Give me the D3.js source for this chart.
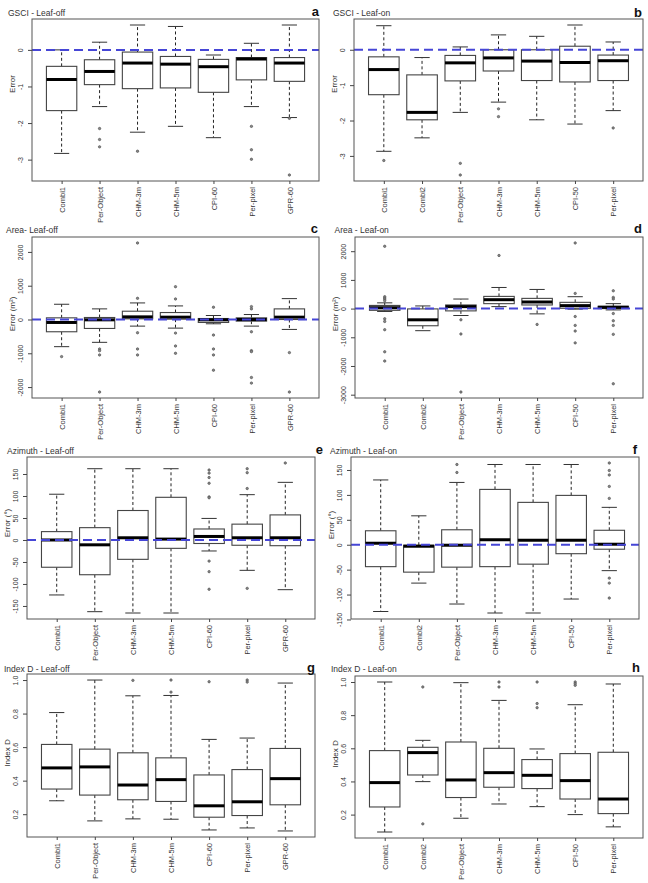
<!DOCTYPE html>
<html>
<head>
<meta charset="utf-8">
<script src="https://cdn.jsdelivr.net/npm/d3@7"></script>
<style>
  body { margin: 0; background: #fff; }
  svg { font-family: "Liberation Sans", Arial, sans-serif; }
</style>
</head>
<body>
<svg id="fig" width="648" height="883"></svg>
<script>
const FONT = '"Liberation Sans", Arial, sans-serif';

const leafOffCats = ["Combi1", "Per-Object", "CHM-3m", "CHM-5m", "CPI-60", "Per-pixel", "GPR-60"];
const leafOnCats = ["Combi1", "Combi2", "Per-Object", "CHM-3m", "CHM-5m", "CPI-50", "Per-pixel"];

// each box: [lower whisker, Q1, median, Q3, upper whisker]
const gsciOff = [[-2.83, -1.66, -0.81, -0.45, 0.0], [-1.55, -0.95, -0.59, -0.27, 0.21], [-2.25, -1.06, -0.36, -0.06, 0.68],
  [-2.09, -1.04, -0.39, -0.18, 0.64], [-2.40, -1.16, -0.46, -0.26, -0.14], [-1.55, -0.82, -0.25, -0.21, 0.18], [-1.85, -0.86, -0.36, -0.21, 0.68]];
const gsciOffOut = [[], [-2.15, -2.45, -2.65], [-2.77], [], [], [-2.09, -2.73, -2.99], [-1.87, -3.42]];

const gsciOn = [[-2.87, -1.27, -0.56, -0.20, 0.68], [-2.49, -1.98, -1.77, -0.71, -0.22], [-1.77, -0.88, -0.37, -0.16, 0.08],
  [-1.48, -0.60, -0.23, 0.0, 0.42], [-1.98, -0.87, -0.32, 0.0, 0.38], [-2.10, -0.91, -0.36, 0.10, 0.70], [-1.72, -0.87, -0.31, -0.15, 0.22]];
const gsciOnOut = [[-3.13], [], [-3.21, -3.54], [-1.67, -1.89], [], [], [-2.21]];

const areaOff = [[-804, -363, -88, 49, 451], [-676, -265, -10, 59, 314], [-196, 20, 78, 245, 490], [-255, 10, 69, 206, 402],
  [-127, -88, -10, 29, 118], [-196, -49, 0, 49, 147], [-294, 0, 69, 314, 618]];
const areaOffOut = [[-1098], [-873, -922, -1049, -2147], [627, 2265, -392, -873, -1049], [971, 608, -402, -784, -1000],
  [363, -461, -873, -1049, -1500], [382, 314, -363, -922, -951, -1716, -1882], [-980, -2147]];

const areaOn = [[-100, -60, 30, 110, 200], [-770, -598, -391, -11, 92], [-241, -80, 69, 126, 333], [69, 172, 310, 425, 736],
  [-184, 126, 230, 356, 667], [-20, 11, 103, 218, 414], [-46, 0, 46, 80, 172]];
const areaOnOut = [[2172, 414, 370, 330, 276, -356, -448, -736, -1506, -1828], [], [-391, -885, -2908], [1851], [-552],
  [2287, 529, -276, -586, -782, -1195], [620, 391, 333, -172, -425, -586, -897, -2620]];

const azOff = [[-125, -62, 0, 19, 104], [-163, -79, -11, 28, 162], [-166, -44, 5, 67, 162], [-166, -19, 2, 97, 162],
  [-25, -8, 8, 25, 49], [-69, -12, 5, 36, 103], [-113, -13, 5, 57, 131]];
const azOffOut = [[], [], [], [], [159, 152, 142, 129, 98, 96, -48, -72, -112], [162, 153, 117, -110], [175]];

const azOn = [[-134, -44, 3, 28, 130], [-77, -55, -3, -1, 58], [-119, -45, -1, 30, 125], [-137, -44, 10, 111, 161],
  [-137, -39, 9, 85, 161], [-109, -18, 9, 99, 161], [-52, -9, 1, 29, 75]];
const azOnOut = [[], [], [161, 145], [], [], [], [164, 149, 140, 117, 93, -67, -77, -107]];

const idxOff = [[0.28, 0.35, 0.476, 0.616, 0.806], [0.16, 0.314, 0.482, 0.588, 1.0], [0.172, 0.286, 0.374, 0.566, 0.906],
  [0.17, 0.276, 0.406, 0.536, 0.908], [0.106, 0.182, 0.25, 0.434, 0.646], [0.118, 0.192, 0.274, 0.466, 0.654], [0.1, 0.256, 0.412, 0.592, 0.982]];
const idxOffOut = [[], [], [0.998], [1.0, 0.928], [0.99], [1.0, 0.988], []];

const idxOn = [[0.095, 0.246, 0.393, 0.586, 1.0], [0.399, 0.439, 0.574, 0.606, 0.648], [0.178, 0.303, 0.409, 0.638, 0.996],
  [0.264, 0.365, 0.453, 0.6, 0.889], [0.248, 0.357, 0.437, 0.532, 0.596], [0.2, 0.294, 0.405, 0.568, 0.863], [0.126, 0.206, 0.294, 0.576, 0.988]];
const idxOnOut = [[], [0.97, 0.144], [], [1.0, 0.97], [1.0, 0.87, 0.845], [1.0, 0.99, 0.98], []];

const gsciTicks = [0, -1, -2, -3];
const areaOffTicks = [-2000, -1000, 0, 1000, 2000];
const areaOnTicks = [-3000, -2000, -1000, 0, 1000, 2000];
const azTicks = [-150, -100, -50, 0, 50, 100, 150];
const idxTicks = [0.2, 0.4, 0.6, 0.8, 1.0];

const intFmt = d => String(d);
const decFmt = d3.format(".1f");

const panels = [
  { letter: "a", title: "GSCI - Leaf-off", ylab: "Error", cats: leafOffCats, stats: gsciOff, out: gsciOffOut, ticks: gsciTicks, fmt: intFmt, zero: true,
    x0: 32, x1: 319, y0: 19, y1: 181, tx: 8, ty: 16, lx: 319, ly: 16, ylabY: 84 },
  { letter: "b", title: "GSCI - Leaf-on", ylab: "Error", cats: leafOnCats, stats: gsciOn, out: gsciOnOut, ticks: gsciTicks, fmt: intFmt, zero: true,
    x0: 354, x1: 643, y0: 19, y1: 181, tx: 333, ty: 16, lx: 642, ly: 16.5, ylabY: 84 },
  { letter: "c", title: "Area- Leaf-off", ylab: "Error (m²)", cats: leafOffCats, stats: areaOff, out: areaOffOut, ticks: areaOffTicks, fmt: intFmt, zero: true,
    x0: 32, x1: 319, y0: 237, y1: 398, tx: 6, ty: 233, lx: 318, ly: 232.5, ylabY: 314 },
  { letter: "d", title: "Area - Leaf-on", ylab: "Error (m²)", cats: leafOnCats, stats: areaOn, out: areaOnOut, ticks: areaOnTicks, fmt: intFmt, zero: true,
    x0: 355, x1: 643, y0: 237, y1: 398, tx: 334.5, ty: 233, lx: 642, ly: 233, ylabY: 314 },
  { letter: "e", title: "Azimuth - Leaf-off", ylab: "Error (°)", cats: leafOffCats, stats: azOff, out: azOffOut, ticks: azTicks, fmt: intFmt, zero: true,
    x0: 27, x1: 315, y0: 457, y1: 619, tx: 7, ty: 454, lx: 323, ly: 454, ylabY: 523 },
  { letter: "f", title: "Azimuth - Leaf-on", ylab: "Error (°)", cats: leafOnCats, stats: azOn, out: azOnOut, ticks: azTicks, fmt: intFmt, zero: true,
    x0: 351, x1: 639, y0: 457, y1: 619, tx: 330, ty: 454, lx: 637, ly: 454, ylabY: 525 },
  { letter: "g", title: "Index D - Leaf-off", ylab: "Index D", cats: leafOffCats, stats: idxOff, out: idxOffOut, ticks: idxTicks, fmt: decFmt, zero: false,
    x0: 27, x1: 315, y0: 674, y1: 837, tx: 4, ty: 671.5, lx: 315, ly: 672, ylabY: 753 },
  { letter: "h", title: "Index D - Leaf-on", ylab: "Index D", cats: leafOnCats, stats: idxOn, out: idxOnOut, ticks: idxTicks, fmt: decFmt, zero: false,
    x0: 355, x1: 643, y0: 676, y1: 838, tx: 331, ty: 672, lx: 640, ly: 672, ylabY: 754 }
];

const svg = d3.select("#fig");

panels.forEach(p => {
  const g = svg.append("g");
  const n = p.cats.length;

  // R style: data range plus 4% each side
  const [lo, hi] = d3.extent(p.stats.flat().concat(p.out.flat()));
  const pad = (hi - lo) * 0.04;
  const y = d3.scaleLinear().domain([lo - pad, hi + pad]).range([p.y1, p.y0]);
  const x = d3.scaleLinear().domain([0.5 - n * 0.04, n + 0.5 + n * 0.04]).range([p.x0, p.x1]);
  const unit = x(1) - x(0);
  const bw = unit * 0.8, cw = unit * 0.4;

  const box = g.selectAll("g.box").data(p.stats).join("g")
    .attr("class", "box")
    .attr("transform", (d, i) => `translate(${x(i + 1)},0)`);

  // whiskers
  box.append("line").attr("y1", d => y(d[3])).attr("y2", d => y(d[4]))
    .attr("stroke", "#222").attr("stroke-dasharray", "3,2.5");
  box.append("line").attr("y1", d => y(d[1])).attr("y2", d => y(d[0]))
    .attr("stroke", "#222").attr("stroke-dasharray", "3,2.5");
  box.append("line").attr("x1", -cw / 2).attr("x2", cw / 2)
    .attr("y1", d => y(d[4])).attr("y2", d => y(d[4])).attr("stroke", "#333");
  box.append("line").attr("x1", -cw / 2).attr("x2", cw / 2)
    .attr("y1", d => y(d[0])).attr("y2", d => y(d[0])).attr("stroke", "#333");

  box.append("rect")
    .attr("x", -bw / 2).attr("width", bw)
    .attr("y", d => y(d[3])).attr("height", d => Math.max(0.5, y(d[1]) - y(d[3])))
    .attr("fill", "#fff").attr("stroke", "#444").attr("stroke-width", 1.1);
  box.append("line").attr("x1", -bw / 2).attr("x2", bw / 2)
    .attr("y1", d => y(d[2])).attr("y2", d => y(d[2]))
    .attr("stroke", "#000").attr("stroke-width", 3);

  box.selectAll("circle").data((d, i) => p.out[i]).join("circle")
    .attr("cy", v => y(v)).attr("r", 1.2)
    .attr("fill", "#888").attr("stroke", "#555").attr("stroke-width", 0.7);

  if (p.zero) {
    g.append("line")
      .attr("x1", p.x0).attr("x2", p.x1).attr("y1", y(0)).attr("y2", y(0))
      .attr("stroke", "#4646d6").attr("stroke-width", 2).attr("stroke-dasharray", "9,5");
  }

  g.append("rect")
    .attr("x", p.x0).attr("y", p.y0).attr("width", p.x1 - p.x0).attr("height", p.y1 - p.y0)
    .attr("fill", "none").attr("stroke", "#555");

  const ya = g.append("g").attr("transform", `translate(${p.x0},0)`)
    .call(d3.axisLeft(y).tickValues(p.ticks).tickSize(4).tickFormat(p.fmt));
  ya.select(".domain").remove();
  ya.attr("font-family", FONT).attr("font-size", 7).attr("color", "#444");
  ya.selectAll("text")
    .attr("x", null).attr("dy", "0.35em").attr("fill", "#333")
    .attr("text-anchor", "middle")
    .attr("transform", "translate(-11,0) rotate(-90)");

  const xa = g.append("g").attr("transform", `translate(0,${p.y1})`)
    .call(d3.axisBottom(x).tickValues(d3.range(1, n + 1)).tickSize(3).tickFormat(i => p.cats[i - 1]));
  xa.select(".domain").remove();
  xa.attr("font-family", FONT).attr("font-size", 7.5).attr("color", "#444");
  xa.selectAll("text")
    .attr("y", null).attr("dy", "0.35em").attr("fill", "#333")
    .attr("text-anchor", "end")
    .attr("transform", "translate(0,6) rotate(-90)");

  g.append("text")
    .attr("transform", `translate(${p.x0 - 20},${p.ylabY}) rotate(-90)`)
    .attr("dy", "0.35em").attr("text-anchor", "middle")
    .attr("font-size", 8).attr("fill", "#333").text(p.ylab);

  g.append("text").attr("x", p.tx).attr("y", p.ty)
    .attr("font-size", 8.5).attr("fill", "#333").text(p.title);

  g.append("text").attr("x", p.lx).attr("y", p.ly)
    .attr("text-anchor", "end").attr("font-size", 13).attr("font-weight", "bold")
    .attr("fill", "#111").text(p.letter);
});
</script>
</body>
</html>
